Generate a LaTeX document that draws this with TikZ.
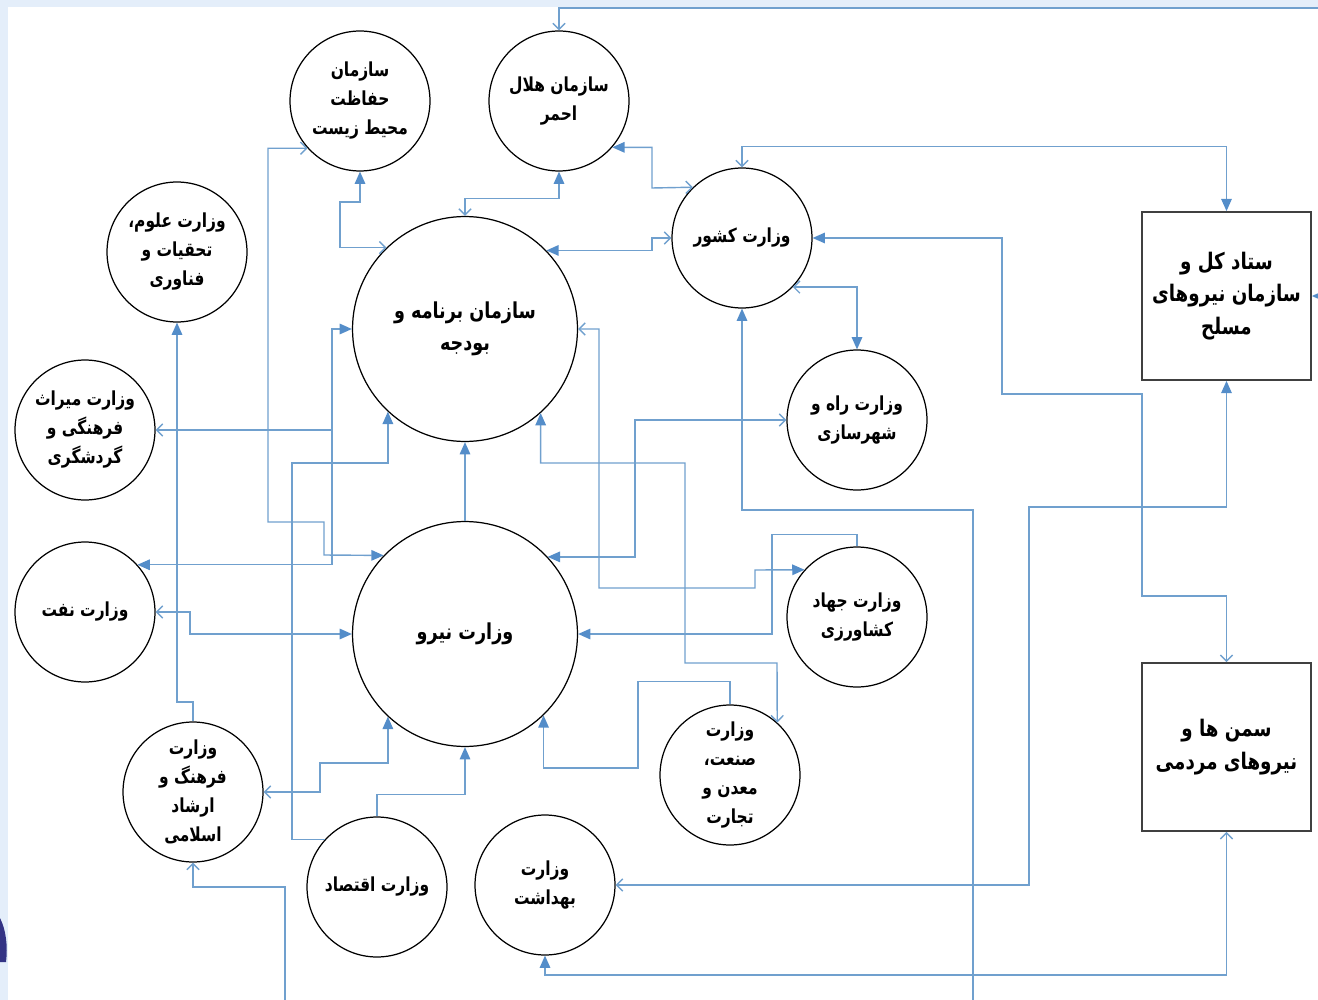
\documentclass[tikz,border=0pt]{standalone}
\usepackage{fontspec}
\usetikzlibrary{arrows.meta}

\newfontfamily\arabicfont[Script=Arabic, FakeStretch=0.8]{DejaVu Sans}
\TeXXeTstate=1
\newcommand{\rtl}[1]{\beginR #1\endR}

\definecolor{linkblue}{RGB}{112,160,206}
\definecolor{tipblue}{RGB}{84,141,201}
\definecolor{bandblue}{RGB}{228,238,250}

\tikzset{
	tri/.tip={Triangle[length=7pt,width=6pt,color=tipblue]},
	barb/.tip={Straight Barb[length=3.5pt,width=7pt]},
	link/.style={draw=linkblue, line width=0.8pt},
	org/.style={circle, draw, line width=0.7pt, minimum size=2.8cm, inner sep=0pt, align=center,
		font=\arabicfont\bfseries\fontsize{11}{16.5}\selectfont},
	bigorg/.style={org, minimum size=4.5cm, font=\arabicfont\bfseries\fontsize{12.5}{18}\selectfont},
	staff/.style={rectangle, draw=black!75, line width=1pt, minimum width=3.38cm, minimum height=3.36cm,
		inner sep=0pt, align=center, font=\arabicfont\bfseries\fontsize{13}{18.5}\selectfont},
}

\begin{document}
\begin{tikzpicture}[x=0.02cm, y=-0.02cm]
		\useasboundingbox (0,0) rectangle (1318,1000);

		% slide background
		\fill [bandblue] (0,0) rectangle (1318,7);
		\fill [bandblue] (0,0) rectangle (8,1000);
		\fill [blue!40!black!80] (0,918) .. controls (6,930) and (8,946) .. (6,962) -- (0,962) -- cycle;

		% centres of the organisations
		\coordinate (c-hif) at (360,101);
		\coordinate (c-hel) at (559,101);
		\coordinate (c-kesh) at (742,238);
		\coordinate (c-olum) at (177,252);
		\coordinate (c-miras) at (85,430);
		\coordinate (c-naft) at (85,612);
		\coordinate (c-farh) at (193,792);
		\coordinate (c-eqt) at (377,887);
		\coordinate (c-beh) at (545,885);
		\coordinate (c-sanat) at (730,775);
		\coordinate (c-jahad) at (857,617);
		\coordinate (c-rah) at (857,420);

		% draw the organisations
		\node (bar) at (465,329) [bigorg] {\rtl{سازمان برنامه و}\\\rtl{بودجه}};
		\node (niru) at (465,634) [bigorg] {\rtl{وزارت نیرو}};

		\node (hif) at (c-hif) [org] {\rtl{سازمان}\\\rtl{حفاظت}\\\rtl{محیط زیست}};
		\node (hel) at (c-hel) [org] {\rtl{سازمان هلال}\\\rtl{احمر}};
		\node (kesh) at (c-kesh) [org] {\rtl{وزارت کشور}};
		\node (olum) at (c-olum) [org] {\rtl{وزارت علوم،}\\\rtl{تحقیات و}\\\rtl{فناوری}};
		\node (miras) at (c-miras) [org] {\rtl{وزارت میراث}\\\rtl{فرهنگی و}\\\rtl{گردشگری}};
		\node (naft) at (c-naft) [org] {\rtl{وزارت نفت}};
		\node (farh) at (c-farh) [org] {\rtl{وزارت}\\\rtl{فرهنگ و}\\\rtl{ارشاد}\\\rtl{اسلامی}};
		\node (eqt) at (c-eqt) [org] {\rtl{وزارت اقتصاد}};
		\node (beh) at (c-beh) [org] {\rtl{وزارت}\\\rtl{بهداشت}};
		\node (sanat) at (c-sanat) [org] {\rtl{وزارت}\\\rtl{صنعت،}\\\rtl{معدن و}\\\rtl{تجارت}};
		\node (jahad) at (c-jahad) [org] {\rtl{وزارت جهاد}\\\rtl{کشاورزی}};
		\node (rah) at (c-rah) [org] {\rtl{وزارت راه و}\\\rtl{شهرسازی}};

		\node (setad) at (1226.5,296) [staff] {\rtl{ستاد کل و}\\\rtl{سازمان نیروهای}\\\rtl{مسلح}};
		\node (basij) at (1226.5,747) [staff] {\rtl{سمن ها و}\\\rtl{نیروهای مردمی}};

		% links of the top row
		\draw [link, tri-barb] (hif.south) |- (340,202) |- (bar.134);
		\draw [link, tri-barb] (hel.south) -- ++(0,27) -| (bar.north);
		\draw [link, tri-barb] (hel.-41) -| (652,188) -- (kesh.134);
		\draw [link, tri-barb] (bar.44) -| (652,238) -- (kesh.west);
		\draw [link, barb-tri] (hel.north) |- (1330,8) |- (setad.east);

		% links on the left
		\draw [link, barb-tri] (hif.-138) -| (268,522) -| (324,555) -- (niru.136);
		\coordinate (mirasjoin) at (332,430);
		\draw [link, barb-tri] (miras.east) -- (mirasjoin) |- (bar.west);
		\draw [link, -tri] (mirasjoin) |- (naft.42);
		\draw [link, -tri] (eqt.138) -| (292,463) -| (bar.-133);
		\draw [link, barb-tri] (naft.east) -- (190,612) |- (niru.west);
		\draw [link, barb-tri] (farh.east) -| (320,763) -| (niru.-133);
		\draw [link, -tri] (eqt.north) -- ++(0,-22) -| (niru.south);
		\draw [link, -tri] (niru.north) -- (bar.south);
		\draw [link, -tri] (farh.north) |- (177,702) -- (olum.south);
		\draw [link, barb-tri] (farh.south) |- (285,887) |- (973,1012) |- (742,510) -- (kesh.south);

		% links on the right
		\draw [link, barb-tri] (bar.east) -| (599,588) -| (755,570) -- (jahad.138);
		\draw [link, tri-barb] (bar.-48) |- (685,463) |- (777,663) -- (sanat.48);
		\draw [link, tri-barb] (niru.43) -| (635,420) -- (rah.west);
		\draw [link, barb-tri] (kesh.-44) -| (rah.north);
		\draw [link, -tri] (jahad.north) -- ++(0,-12) -| (772,634) -- (niru.east);
		\draw [link, -tri] (sanat.north) -- ++(0,-23) -| (638,768) -| (niru.-46);

		% links to the armed forces
		\draw [link, barb-tri] (kesh.north) -- ++(0,-21) -| (setad.north);
		\draw [link, tri-barb] (kesh.east) -| (1002,394) -| (1142,596) -| (basij.north);
		\draw [link, barb-tri] (beh.east) -| (1029,507) -| (setad.south);
		\draw [link, barb-tri] (basij.south) |- (545,975) -- (beh.south);
\end{tikzpicture}
\end{document}
